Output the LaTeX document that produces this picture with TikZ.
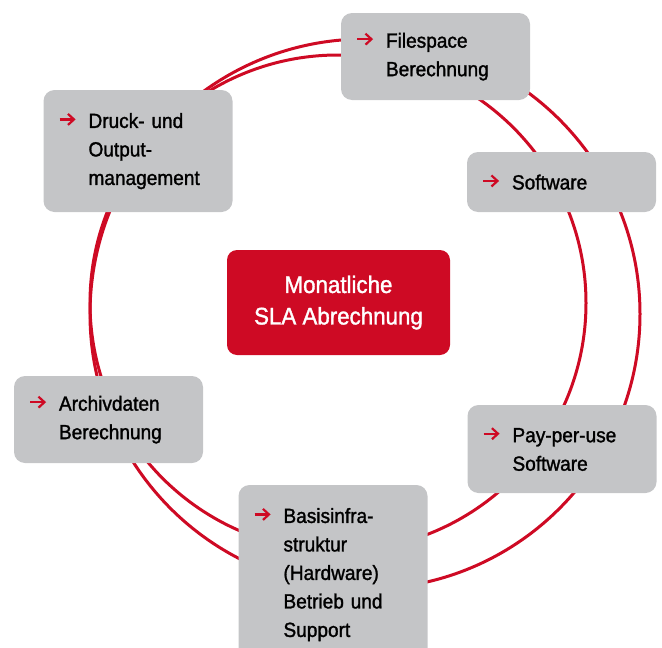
\documentclass[tikz,border=0pt]{standalone}
\usepackage{fontspec}
\setmainfont{Liberation Sans}[FakeStretch=0.93,FakeBold=1.4]
\usetikzlibrary{arrows.meta}
\definecolor{slared}{RGB}{206,10,36}
\definecolor{boxgray}{RGB}{196,197,199}
\newcommand\slaarrow{\tikz[baseline=0pt]\draw[slared,line width=2.2pt,-{Straight Barb[length=6pt,width=11pt]}] (0pt,8.5pt)--(16pt,8.5pt);}
\newcommand\itemtext[1]{\makebox[30pt][l]{\slaarrow}\parbox[t]{125pt}{\raggedright #1}}
\begin{document}
\begin{tikzpicture}[x=1pt,y=-1pt,
  ring/.style={draw=slared,line width=3pt},
  item/.style={fill=boxgray,rounded corners=11pt,inner xsep=15pt,inner ysep=0pt,
    text width=159pt,minimum height=#1,align=left,
    font=\fontsize{20.5}{28.5}\selectfont},
  center box/.style={fill=slared,rounded corners=10pt,minimum width=223pt,
    minimum height=105pt,text=white,align=center,
    font=\fontsize{24}{31.5}\selectfont}]
\useasboundingbox (0,0) rectangle (662,648);
\draw[ring] (338,303) circle[radius=248pt];
\draw[ring] (365,314) circle[radius=275pt];
\node[center box] (sla) at (338.5,302.5) {Monatliche\\SLA Abrechnung};
\node[item=87pt] (fs) at (435.5,56.5) {\itemtext{Filespace\\Berechnung}};
\node[item=122pt] (dr) at (138,151) {\itemtext{Druck- und\\Output-\\management}};
\node[item=60pt] (sw) at (561.5,182) {\itemtext{Software}};
\node[item=88pt] (pp) at (562,449) {\itemtext{Pay-per-use\\Software}};
\node[item=87pt] (ar) at (108.5,419.5) {\itemtext{Archivdaten\\Berechnung}};
\node[item=179pt] (bs) at (333,574.5) {\itemtext{Basisinfra-\\struktur\\(Hardware)\\Betrieb und\\Support}};
\end{tikzpicture}
\end{document}
